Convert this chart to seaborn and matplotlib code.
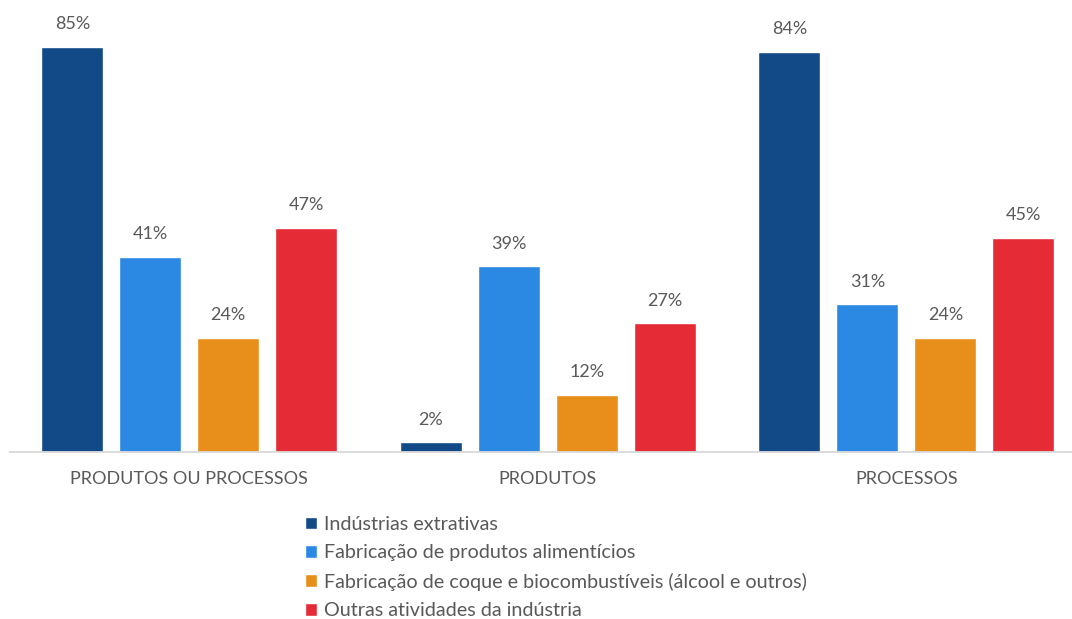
import matplotlib
matplotlib.use("Agg")
import matplotlib.pyplot as plt
import seaborn as sns
import pandas as pd

categories = ["PRODUTOS OU PROCESSOS", "PRODUTOS", "PROCESSOS"]
series = [
    "Indústrias extrativas",
    "Fabricação de produtos alimentícios",
    "Fabricação de coque e biocombustíveis (álcool e outros)",
    "Outras atividades da indústria",
]
values = {
    "Indústrias extrativas": [85, 2, 84],
    "Fabricação de produtos alimentícios": [41, 39, 31],
    "Fabricação de coque e biocombustíveis (álcool e outros)": [24, 12, 24],
    "Outras atividades da indústria": [47, 27, 45],
}
colors = ["#114A87", "#2B88E3", "#E88E1A", "#E52B36"]

rows = []
for s in series:
    for c, v in zip(categories, values[s]):
        rows.append({"Categoria": c, "Setor": s, "Valor": v})
df = pd.DataFrame(rows)

sns.set_theme(style="white")
plt.rcParams["font.family"] = ["Lato", "DejaVu Sans"]
text_color = "#595959"

fig = plt.figure(figsize=(10.72, 6.19), dpi=100)
ax = fig.add_axes([10 / 1072, 167 / 619, 1062 / 1072, 428.8 / 619])

sns.barplot(data=df, x="Categoria", y="Valor", hue="Setor", order=categories,
            hue_order=series, palette=colors, width=0.87, gap=0.205,
            saturation=1, ax=ax, legend=True)

ax.set_ylim(0, 90)
ax.set_xlim(-0.5, 2.462)
ax.set_xlabel("")
ax.set_ylabel("")
ax.set_yticks([])
for side in ["top", "left", "right"]:
    ax.spines[side].set_visible(False)
ax.spines["bottom"].set_color("#D9D9D9")
ax.spines["bottom"].set_linewidth(1.3)
ax.tick_params(axis="x", length=0, pad=14, labelsize=13, labelcolor=text_color)

for container in ax.containers:
    for bar in container:
        h = bar.get_height()
        ax.annotate(f"{h:.0f}%", (bar.get_x() + bar.get_width() / 2, h),
                    xytext=(0, 10.5), textcoords="offset points",
                    ha="center", va="bottom", fontsize=13, color=text_color,
                    annotation_clip=False)

handles, labels = ax.get_legend_handles_labels()
ax.legend_.remove()
fig.legend(handles, labels, loc="upper left", bbox_to_anchor=(297 / 1072, 1 - 508 / 619),
           frameon=False, fontsize=14.2, labelcolor=text_color, handlelength=0.62,
           handleheight=0.62, handletextpad=0.35, labelspacing=0.58, borderaxespad=0)

fig.savefig("out.png", dpi=100)
